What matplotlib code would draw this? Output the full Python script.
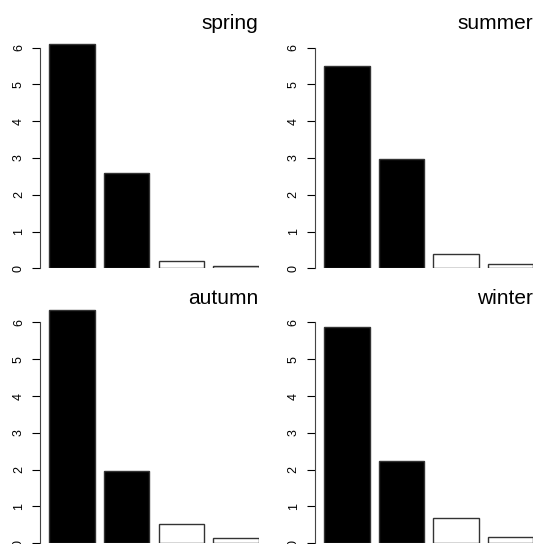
import matplotlib
matplotlib.use("Agg")
import matplotlib.pyplot as plt
import numpy as np

plt.rcParams['font.family'] = ['Liberation Sans', 'DejaVu Sans']

# Data
seasons = ["spring", "summer", "autumn", "winter"]
spring = [6.11, 2.60, 0.20, 0.07]
summer = [5.51, 2.98, 0.39, 0.11]
autumn = [6.34, 1.97, 0.53, 0.14]
winter = [5.89, 2.23, 0.68, 0.16]
values = [spring, summer, autumn, winter]
bar_colors = ["black", "black", "white", "white"]
yticks = [0, 1, 2, 3, 4, 5, 6]

W, H = 538, 544
fig = plt.figure(figsize=(W / 100, H / 100), dpi=100)

# R barplot layout: width 1, space 0.2, xaxs="i"
x_left = 0.2 + 1.2 * np.arange(4)
px_unit_x = 45.5
px_unit_y = 36.77
ytop = 6.5
panel_offset = 274.8

for k, (name, vals) in enumerate(zip(seasons, values)):
    row, col = divmod(k, 2)
    left_px = 40.2 + col * panel_offset
    zero_px = 268.3 + row * panel_offset
    top_px = zero_px - ytop * px_unit_y
    ax = fig.add_axes([left_px / W, (H - zero_px) / H,
                       4.8 * px_unit_x / W, (zero_px - top_px) / H])
    ax.bar(x_left, vals, width=1.0, align='edge', color=bar_colors,
           edgecolor='#333333', linewidth=1.0)
    ax.set_xlim(0, 4.8)
    ax.set_ylim(0, ytop)
    ax.patch.set_visible(False)
    for s in ['top', 'right', 'bottom']:
        ax.spines[s].set_visible(False)
    ax.spines['left'].set_bounds(0, 6)
    ax.spines['left'].set_linewidth(0.8)
    ax.spines['left'].set_color('#444444')
    ax.set_xticks([])
    ax.set_yticks(yticks)
    ax.set_yticklabels([str(t) for t in yticks], rotation=90, va='center',
                       fontsize=9)
    ax.tick_params(axis='y', length=5.5, width=0.8, pad=5.5)
    ax.text(1.0, 1.0, name, transform=ax.transAxes, ha='right',
            va='baseline', fontsize=15)

fig.savefig('out.png', dpi=100)
